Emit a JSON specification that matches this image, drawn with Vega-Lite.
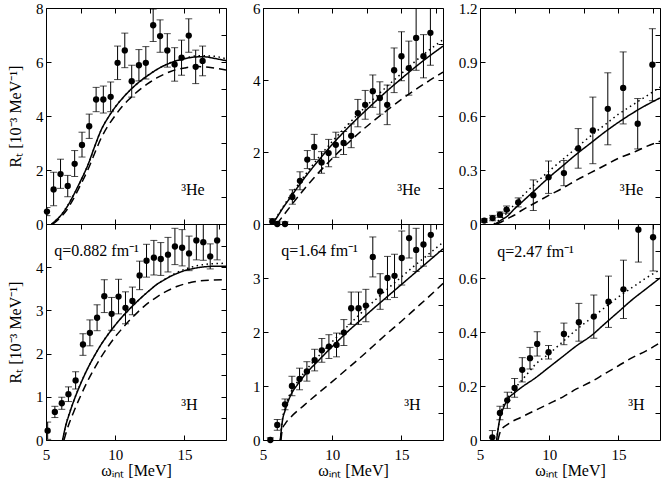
{
  "$schema": "https://vega.github.io/schema/vega-lite/v6.json",
  "background": "white",
  "padding": {"left": 7, "top": 0, "right": 2, "bottom": 4},
  "config": {
    "font": "Liberation Serif",
    "view": {"stroke": "black", "strokeWidth": 1},
    "axis": {"domain": false, "grid": false, "tickColor": "black", "tickSize": -5, "tickWidth": 1, "labelColor": "black", "labelFont": "Liberation Serif", "titleFont": "Liberation Serif", "labelFontSize": 15, "titleFontSize": 16, "titleFontWeight": "normal", "titleColor": "black", "labelFlush": false, "labelOverlap": false},
    "axisY": {"labelPadding": 8, "titlePadding": 12},
    "axisX": {"labelPadding": 12, "titlePadding": 0}
  },
  "datasets": {
    "pts": [
      {"p":"HeA","w":5.07,"r":0.46,"lo":0.31,"hi":0.61},
      {"p":"HeA","w":5.55,"r":1.28,"lo":0.68,"hi":1.92},
      {"p":"HeA","w":6.05,"r":1.85,"lo":1.32,"hi":2.40},
      {"p":"HeA","w":6.57,"r":1.41,"lo":1.01,"hi":1.80},
      {"p":"HeA","w":7.07,"r":2.23,"lo":1.76,"hi":2.72},
      {"p":"HeA","w":7.60,"r":2.93,"lo":2.48,"hi":3.40},
      {"p":"HeA","w":8.12,"r":3.62,"lo":3.17,"hi":4.07},
      {"p":"HeA","w":8.62,"r":4.61,"lo":4.16,"hi":5.06},
      {"p":"HeA","w":9.14,"r":4.61,"lo":4.11,"hi":5.11},
      {"p":"HeA","w":9.67,"r":4.71,"lo":4.16,"hi":5.26},
      {"p":"HeA","w":10.17,"r":5.97,"lo":5.35,"hi":6.59},
      {"p":"HeA","w":10.69,"r":6.43,"lo":5.79,"hi":7.07},
      {"p":"HeA","w":11.19,"r":5.29,"lo":4.70,"hi":5.88},
      {"p":"HeA","w":11.71,"r":5.88,"lo":5.30,"hi":6.46},
      {"p":"HeA","w":12.21,"r":5.97,"lo":5.37,"hi":6.57},
      {"p":"HeA","w":12.74,"r":7.36,"lo":6.76,"hi":7.96},
      {"p":"HeA","w":13.24,"r":6.96,"lo":6.36,"hi":7.56},
      {"p":"HeA","w":13.76,"r":6.43,"lo":5.81,"hi":7.05},
      {"p":"HeA","w":14.29,"r":5.91,"lo":5.29,"hi":6.53},
      {"p":"HeA","w":14.79,"r":6.16,"lo":5.51,"hi":6.81},
      {"p":"HeA","w":15.31,"r":6.98,"lo":6.36,"hi":7.60},
      {"p":"HeA","w":15.81,"r":5.82,"lo":5.20,"hi":6.44},
      {"p":"HeA","w":16.31,"r":6.04,"lo":5.49,"hi":6.59},

      {"p":"HeB","w":5.67,"r":0.07,"lo":-0.01,"hi":0.15},
      {"p":"HeB","w":6.03,"r":0.0,"lo":-0.06,"hi":0.06},
      {"p":"HeB","w":6.59,"r":0.0,"lo":-0.06,"hi":0.06},
      {"p":"HeB","w":7.12,"r":0.75,"lo":0.55,"hi":0.95},
      {"p":"HeB","w":7.67,"r":1.20,"lo":0.95,"hi":1.45},
      {"p":"HeB","w":8.20,"r":1.79,"lo":1.54,"hi":2.04},
      {"p":"HeB","w":8.70,"r":2.14,"lo":1.79,"hi":2.49},
      {"p":"HeB","w":9.23,"r":1.71,"lo":1.41,"hi":2.01},
      {"p":"HeB","w":9.74,"r":1.97,"lo":1.59,"hi":2.35},
      {"p":"HeB","w":10.26,"r":2.20,"lo":1.85,"hi":2.55},
      {"p":"HeB","w":10.82,"r":2.25,"lo":1.93,"hi":2.57},
      {"p":"HeB","w":11.37,"r":2.45,"lo":2.12,"hi":2.78},
      {"p":"HeB","w":11.85,"r":3.08,"lo":2.70,"hi":3.46},
      {"p":"HeB","w":12.38,"r":3.31,"lo":2.91,"hi":3.71},
      {"p":"HeB","w":12.93,"r":3.69,"lo":3.24,"hi":4.14},
      {"p":"HeB","w":13.44,"r":3.50,"lo":3.05,"hi":3.95},
      {"p":"HeB","w":13.97,"r":3.31,"lo":2.76,"hi":3.86},
      {"p":"HeB","w":14.47,"r":4.27,"lo":3.65,"hi":4.89},
      {"p":"HeB","w":15.00,"r":4.66,"lo":3.98,"hi":5.34},
      {"p":"HeB","w":15.53,"r":4.33,"lo":3.58,"hi":5.08},
      {"p":"HeB","w":16.06,"r":5.17,"lo":4.27,"hi":6.07},
      {"p":"HeB","w":16.59,"r":4.66,"lo":4.06,"hi":5.26},
      {"p":"HeB","w":17.09,"r":5.31,"lo":4.41,"hi":6.21},

      {"p":"HeC","w":5.31,"r":0.019,"lo":0.009,"hi":0.029},
      {"p":"HeC","w":5.91,"r":0.033,"lo":0.018,"hi":0.048},
      {"p":"HeC","w":6.44,"r":0.052,"lo":0.037,"hi":0.067},
      {"p":"HeC","w":6.92,"r":0.080,"lo":0.060,"hi":0.100},
      {"p":"HeC","w":7.76,"r":0.120,"lo":0.095,"hi":0.145},
      {"p":"HeC","w":8.85,"r":0.160,"lo":0.075,"hi":0.245},
      {"p":"HeC","w":9.95,"r":0.260,"lo":0.170,"hi":0.350},
      {"p":"HeC","w":11.06,"r":0.283,"lo":0.213,"hi":0.353},
      {"p":"HeC","w":12.09,"r":0.420,"lo":0.310,"hi":0.530},
      {"p":"HeC","w":13.15,"r":0.520,"lo":0.335,"hi":0.705},
      {"p":"HeC","w":14.23,"r":0.640,"lo":0.440,"hi":0.840},
      {"p":"HeC","w":15.34,"r":0.756,"lo":0.556,"hi":0.956},
      {"p":"HeC","w":16.39,"r":0.557,"lo":0.417,"hi":0.697},
      {"p":"HeC","w":17.45,"r":0.885,"lo":0.685,"hi":1.085},

      {"p":"HA","w":5.12,"r":0.215,"lo":0.015,"hi":0.415},
      {"p":"HA","w":5.64,"r":0.65,"lo":0.52,"hi":0.78},
      {"p":"HA","w":6.14,"r":0.85,"lo":0.71,"hi":0.99},
      {"p":"HA","w":6.62,"r":1.06,"lo":0.89,"hi":1.23},
      {"p":"HA","w":7.14,"r":1.38,"lo":1.18,"hi":1.58},
      {"p":"HA","w":7.67,"r":2.21,"lo":1.96,"hi":2.46},
      {"p":"HA","w":8.17,"r":2.48,"lo":2.18,"hi":2.78},
      {"p":"HA","w":8.69,"r":2.83,"lo":2.53,"hi":3.13},
      {"p":"HA","w":9.21,"r":3.33,"lo":2.95,"hi":3.71},
      {"p":"HA","w":9.74,"r":2.92,"lo":2.54,"hi":3.30},
      {"p":"HA","w":10.24,"r":3.32,"lo":2.92,"hi":3.72},
      {"p":"HA","w":10.74,"r":3.06,"lo":2.69,"hi":3.43},
      {"p":"HA","w":11.24,"r":3.22,"lo":2.90,"hi":3.54},
      {"p":"HA","w":11.76,"r":3.81,"lo":3.48,"hi":4.14},
      {"p":"HA","w":12.26,"r":4.15,"lo":3.77,"hi":4.53},
      {"p":"HA","w":12.79,"r":4.22,"lo":3.82,"hi":4.62},
      {"p":"HA","w":13.29,"r":4.19,"lo":3.81,"hi":4.57},
      {"p":"HA","w":13.81,"r":4.29,"lo":3.89,"hi":4.69},
      {"p":"HA","w":14.31,"r":4.48,"lo":4.06,"hi":4.90},
      {"p":"HA","w":14.83,"r":4.45,"lo":4.03,"hi":4.87},
      {"p":"HA","w":15.33,"r":4.32,"lo":3.92,"hi":4.72},
      {"p":"HA","w":15.86,"r":4.62,"lo":4.17,"hi":5.07},
      {"p":"HA","w":16.36,"r":4.58,"lo":4.16,"hi":5.00},
      {"p":"HA","w":16.86,"r":4.25,"lo":3.96,"hi":4.54},
      {"p":"HA","w":17.36,"r":4.62,"lo":4.17,"hi":5.07},

      {"p":"HB","w":5.53,"r":0.0,"lo":-0.04,"hi":0.04},
      {"p":"HB","w":6.03,"r":0.28,"lo":0.18,"hi":0.38},
      {"p":"HB","w":6.59,"r":0.66,"lo":0.56,"hi":0.76},
      {"p":"HB","w":7.09,"r":1.00,"lo":0.82,"hi":1.18},
      {"p":"HB","w":7.64,"r":1.13,"lo":0.93,"hi":1.33},
      {"p":"HB","w":8.17,"r":1.27,"lo":1.09,"hi":1.45},
      {"p":"HB","w":8.73,"r":1.48,"lo":1.28,"hi":1.68},
      {"p":"HB","w":9.25,"r":1.66,"lo":1.44,"hi":1.88},
      {"p":"HB","w":9.76,"r":1.73,"lo":1.51,"hi":1.95},
      {"p":"HB","w":10.31,"r":1.76,"lo":1.54,"hi":1.98},
      {"p":"HB","w":10.84,"r":1.99,"lo":1.75,"hi":2.23},
      {"p":"HB","w":11.37,"r":2.44,"lo":2.14,"hi":2.74},
      {"p":"HB","w":11.90,"r":2.44,"lo":2.14,"hi":2.74},
      {"p":"HB","w":12.43,"r":2.49,"lo":2.19,"hi":2.79},
      {"p":"HB","w":12.93,"r":3.39,"lo":3.02,"hi":3.76},
      {"p":"HB","w":13.46,"r":2.75,"lo":2.42,"hi":3.08},
      {"p":"HB","w":13.99,"r":3.00,"lo":2.60,"hi":3.40},
      {"p":"HB","w":14.50,"r":3.04,"lo":2.64,"hi":3.44},
      {"p":"HB","w":15.02,"r":3.37,"lo":2.87,"hi":3.87},
      {"p":"HB","w":15.55,"r":3.74,"lo":3.37,"hi":4.11},
      {"p":"HB","w":16.06,"r":3.52,"lo":3.12,"hi":3.92},
      {"p":"HB","w":16.59,"r":3.62,"lo":3.22,"hi":4.02},
      {"p":"HB","w":17.12,"r":3.80,"lo":3.40,"hi":4.20},

      {"p":"HC","w":5.89,"r":0.010,"lo":-0.015,"hi":0.035},
      {"p":"HC","w":6.44,"r":0.100,"lo":0.075,"hi":0.125},
      {"p":"HC","w":6.97,"r":0.147,"lo":0.117,"hi":0.177},
      {"p":"HC","w":7.50,"r":0.193,"lo":0.158,"hi":0.228},
      {"p":"HC","w":8.05,"r":0.260,"lo":0.215,"hi":0.305},
      {"p":"HC","w":8.61,"r":0.303,"lo":0.263,"hi":0.343},
      {"p":"HC","w":9.13,"r":0.356,"lo":0.311,"hi":0.401},
      {"p":"HC","w":9.95,"r":0.325,"lo":0.300,"hi":0.350},
      {"p":"HC","w":11.06,"r":0.393,"lo":0.353,"hi":0.433},
      {"p":"HC","w":12.14,"r":0.436,"lo":0.366,"hi":0.506},
      {"p":"HC","w":13.22,"r":0.457,"lo":0.377,"hi":0.537},
      {"p":"HC","w":14.28,"r":0.512,"lo":0.417,"hi":0.607},
      {"p":"HC","w":15.36,"r":0.558,"lo":0.450,"hi":0.666},
      {"p":"HC","w":16.44,"r":0.779,"lo":0.659,"hi":0.899},
      {"p":"HC","w":17.50,"r":0.751,"lo":0.626,"hi":0.876}
    ],
    "cur": [
      {"p":"HeA","c":"s","w":5.4,"r":0},{"p":"HeA","c":"s","w":6,"r":0.28},{"p":"HeA","c":"s","w":6.5,"r":0.62},{"p":"HeA","c":"s","w":7,"r":1.08},{"p":"HeA","c":"s","w":7.5,"r":1.6},{"p":"HeA","c":"s","w":8,"r":2.15},{"p":"HeA","c":"s","w":8.5,"r":2.85},{"p":"HeA","c":"s","w":9,"r":3.5},{"p":"HeA","c":"s","w":9.5,"r":3.95},{"p":"HeA","c":"s","w":10,"r":4.33},{"p":"HeA","c":"s","w":10.5,"r":4.64},{"p":"HeA","c":"s","w":11,"r":4.92},{"p":"HeA","c":"s","w":11.5,"r":5.16},{"p":"HeA","c":"s","w":12,"r":5.37},{"p":"HeA","c":"s","w":12.5,"r":5.55},{"p":"HeA","c":"s","w":13,"r":5.72},{"p":"HeA","c":"s","w":13.5,"r":5.86},{"p":"HeA","c":"s","w":14,"r":5.97},{"p":"HeA","c":"s","w":14.5,"r":6.06},{"p":"HeA","c":"s","w":15,"r":6.12},{"p":"HeA","c":"s","w":15.5,"r":6.17},{"p":"HeA","c":"s","w":16,"r":6.19},{"p":"HeA","c":"s","w":16.5,"r":6.19},{"p":"HeA","c":"s","w":17,"r":6.15},{"p":"HeA","c":"s","w":17.5,"r":6.1},{"p":"HeA","c":"s","w":18,"r":6.05},
      {"p":"HeA","c":"o","w":5.4,"r":0},{"p":"HeA","c":"o","w":6,"r":0.28},{"p":"HeA","c":"o","w":7,"r":1.08},{"p":"HeA","c":"o","w":8,"r":2.15},{"p":"HeA","c":"o","w":9,"r":3.5},{"p":"HeA","c":"o","w":10,"r":4.33},{"p":"HeA","c":"o","w":11,"r":4.92},{"p":"HeA","c":"o","w":12,"r":5.37},{"p":"HeA","c":"o","w":13,"r":5.72},{"p":"HeA","c":"o","w":14,"r":5.98},{"p":"HeA","c":"o","w":15,"r":6.14},{"p":"HeA","c":"o","w":16,"r":6.23},{"p":"HeA","c":"o","w":17,"r":6.22},{"p":"HeA","c":"o","w":18,"r":6.12},
      {"p":"HeA","c":"d","w":5.5,"r":0},{"p":"HeA","c":"d","w":6,"r":0.22},{"p":"HeA","c":"d","w":6.5,"r":0.52},{"p":"HeA","c":"d","w":7,"r":0.95},{"p":"HeA","c":"d","w":7.5,"r":1.45},{"p":"HeA","c":"d","w":8,"r":1.98},{"p":"HeA","c":"d","w":8.5,"r":2.6},{"p":"HeA","c":"d","w":9,"r":3.2},{"p":"HeA","c":"d","w":9.5,"r":3.65},{"p":"HeA","c":"d","w":10,"r":4.02},{"p":"HeA","c":"d","w":10.5,"r":4.35},{"p":"HeA","c":"d","w":11,"r":4.62},{"p":"HeA","c":"d","w":11.5,"r":4.86},{"p":"HeA","c":"d","w":12,"r":5.07},{"p":"HeA","c":"d","w":12.5,"r":5.25},{"p":"HeA","c":"d","w":13,"r":5.41},{"p":"HeA","c":"d","w":13.5,"r":5.54},{"p":"HeA","c":"d","w":14,"r":5.65},{"p":"HeA","c":"d","w":14.5,"r":5.73},{"p":"HeA","c":"d","w":15,"r":5.78},{"p":"HeA","c":"d","w":15.5,"r":5.82},{"p":"HeA","c":"d","w":16,"r":5.83},{"p":"HeA","c":"d","w":16.5,"r":5.82},{"p":"HeA","c":"d","w":17,"r":5.79},{"p":"HeA","c":"d","w":17.5,"r":5.75},{"p":"HeA","c":"d","w":18,"r":5.7},

      {"p":"HeB","c":"s","w":5.7,"r":0},{"p":"HeB","c":"s","w":6,"r":0.18},{"p":"HeB","c":"s","w":6.5,"r":0.48},{"p":"HeB","c":"s","w":7,"r":0.75},{"p":"HeB","c":"s","w":7.5,"r":1.02},{"p":"HeB","c":"s","w":8,"r":1.28},{"p":"HeB","c":"s","w":9,"r":1.76},{"p":"HeB","c":"s","w":10,"r":2.21},{"p":"HeB","c":"s","w":11,"r":2.62},{"p":"HeB","c":"s","w":12,"r":3.0},{"p":"HeB","c":"s","w":13,"r":3.36},{"p":"HeB","c":"s","w":14,"r":3.71},{"p":"HeB","c":"s","w":15,"r":4.04},{"p":"HeB","c":"s","w":16,"r":4.36},{"p":"HeB","c":"s","w":17,"r":4.66},{"p":"HeB","c":"s","w":18,"r":4.94},
      {"p":"HeB","c":"o","w":5.7,"r":0},{"p":"HeB","c":"o","w":6,"r":0.2},{"p":"HeB","c":"o","w":7,"r":0.8},{"p":"HeB","c":"o","w":8,"r":1.34},{"p":"HeB","c":"o","w":9,"r":1.84},{"p":"HeB","c":"o","w":10,"r":2.29},{"p":"HeB","c":"o","w":11,"r":2.71},{"p":"HeB","c":"o","w":12,"r":3.1},{"p":"HeB","c":"o","w":13,"r":3.48},{"p":"HeB","c":"o","w":14,"r":3.84},{"p":"HeB","c":"o","w":15,"r":4.18},{"p":"HeB","c":"o","w":16,"r":4.52},{"p":"HeB","c":"o","w":17,"r":4.83},{"p":"HeB","c":"o","w":18,"r":5.12},
      {"p":"HeB","c":"d","w":6.0,"r":0},{"p":"HeB","c":"d","w":6.5,"r":0.25},{"p":"HeB","c":"d","w":7,"r":0.5},{"p":"HeB","c":"d","w":8,"r":0.98},{"p":"HeB","c":"d","w":9,"r":1.42},{"p":"HeB","c":"d","w":10,"r":1.82},{"p":"HeB","c":"d","w":11,"r":2.2},{"p":"HeB","c":"d","w":12,"r":2.55},{"p":"HeB","c":"d","w":13,"r":2.87},{"p":"HeB","c":"d","w":14,"r":3.17},{"p":"HeB","c":"d","w":15,"r":3.46},{"p":"HeB","c":"d","w":16,"r":3.73},{"p":"HeB","c":"d","w":17,"r":3.98},{"p":"HeB","c":"d","w":18,"r":4.22},

      {"p":"HeC","c":"s","w":6.1,"r":0},{"p":"HeC","c":"s","w":6.5,"r":0.02},{"p":"HeC","c":"s","w":7,"r":0.045},{"p":"HeC","c":"s","w":7.5,"r":0.085},{"p":"HeC","c":"s","w":8,"r":0.12},{"p":"HeC","c":"s","w":9,"r":0.19},{"p":"HeC","c":"s","w":10,"r":0.26},{"p":"HeC","c":"s","w":11,"r":0.325},{"p":"HeC","c":"s","w":12,"r":0.39},{"p":"HeC","c":"s","w":13,"r":0.45},{"p":"HeC","c":"s","w":14,"r":0.51},{"p":"HeC","c":"s","w":15,"r":0.565},{"p":"HeC","c":"s","w":16,"r":0.615},{"p":"HeC","c":"s","w":17,"r":0.66},{"p":"HeC","c":"s","w":18,"r":0.7},
      {"p":"HeC","c":"o","w":6.0,"r":0},{"p":"HeC","c":"o","w":6.5,"r":0.03},{"p":"HeC","c":"o","w":7,"r":0.065},{"p":"HeC","c":"o","w":7.5,"r":0.11},{"p":"HeC","c":"o","w":8,"r":0.15},{"p":"HeC","c":"o","w":9,"r":0.225},{"p":"HeC","c":"o","w":10,"r":0.295},{"p":"HeC","c":"o","w":11,"r":0.36},{"p":"HeC","c":"o","w":12,"r":0.425},{"p":"HeC","c":"o","w":13,"r":0.49},{"p":"HeC","c":"o","w":14,"r":0.55},{"p":"HeC","c":"o","w":15,"r":0.61},{"p":"HeC","c":"o","w":16,"r":0.66},{"p":"HeC","c":"o","w":17,"r":0.71},{"p":"HeC","c":"o","w":18,"r":0.76},
      {"p":"HeC","c":"d","w":6.2,"r":0},{"p":"HeC","c":"d","w":6.5,"r":0.01},{"p":"HeC","c":"d","w":7,"r":0.03},{"p":"HeC","c":"d","w":7.5,"r":0.05},{"p":"HeC","c":"d","w":8,"r":0.075},{"p":"HeC","c":"d","w":9,"r":0.118},{"p":"HeC","c":"d","w":10,"r":0.16},{"p":"HeC","c":"d","w":11,"r":0.2},{"p":"HeC","c":"d","w":12,"r":0.245},{"p":"HeC","c":"d","w":13,"r":0.285},{"p":"HeC","c":"d","w":14,"r":0.325},{"p":"HeC","c":"d","w":15,"r":0.365},{"p":"HeC","c":"d","w":16,"r":0.395},{"p":"HeC","c":"d","w":17,"r":0.43},{"p":"HeC","c":"d","w":18,"r":0.46},

      {"p":"HA","c":"s","w":6.2,"r":0},{"p":"HA","c":"s","w":6.4,"r":0.3},{"p":"HA","c":"s","w":6.7,"r":0.62},{"p":"HA","c":"s","w":7,"r":0.9},{"p":"HA","c":"s","w":7.5,"r":1.3},{"p":"HA","c":"s","w":8,"r":1.65},{"p":"HA","c":"s","w":8.5,"r":1.95},{"p":"HA","c":"s","w":9,"r":2.22},{"p":"HA","c":"s","w":9.5,"r":2.45},{"p":"HA","c":"s","w":10,"r":2.66},{"p":"HA","c":"s","w":10.5,"r":2.85},{"p":"HA","c":"s","w":11,"r":3.02},{"p":"HA","c":"s","w":11.5,"r":3.18},{"p":"HA","c":"s","w":12,"r":3.33},{"p":"HA","c":"s","w":12.5,"r":3.47},{"p":"HA","c":"s","w":13,"r":3.6},{"p":"HA","c":"s","w":13.5,"r":3.7},{"p":"HA","c":"s","w":14,"r":3.79},{"p":"HA","c":"s","w":14.5,"r":3.86},{"p":"HA","c":"s","w":15,"r":3.92},{"p":"HA","c":"s","w":15.5,"r":3.96},{"p":"HA","c":"s","w":16,"r":3.99},{"p":"HA","c":"s","w":16.5,"r":4.01},{"p":"HA","c":"s","w":17,"r":4.02},{"p":"HA","c":"s","w":18,"r":4.02},
      {"p":"HA","c":"o","w":6.2,"r":0},{"p":"HA","c":"o","w":6.4,"r":0.3},{"p":"HA","c":"o","w":7,"r":0.9},{"p":"HA","c":"o","w":8,"r":1.65},{"p":"HA","c":"o","w":9,"r":2.22},{"p":"HA","c":"o","w":10,"r":2.66},{"p":"HA","c":"o","w":11,"r":3.02},{"p":"HA","c":"o","w":12,"r":3.33},{"p":"HA","c":"o","w":13,"r":3.6},{"p":"HA","c":"o","w":14,"r":3.8},{"p":"HA","c":"o","w":15,"r":3.95},{"p":"HA","c":"o","w":16,"r":4.04},{"p":"HA","c":"o","w":17,"r":4.08},{"p":"HA","c":"o","w":18,"r":4.09},
      {"p":"HA","c":"d","w":6.3,"r":0},{"p":"HA","c":"d","w":6.5,"r":0.22},{"p":"HA","c":"d","w":7,"r":0.65},{"p":"HA","c":"d","w":7.5,"r":1.02},{"p":"HA","c":"d","w":8,"r":1.36},{"p":"HA","c":"d","w":8.5,"r":1.66},{"p":"HA","c":"d","w":9,"r":1.93},{"p":"HA","c":"d","w":9.5,"r":2.17},{"p":"HA","c":"d","w":10,"r":2.39},{"p":"HA","c":"d","w":10.5,"r":2.58},{"p":"HA","c":"d","w":11,"r":2.76},{"p":"HA","c":"d","w":11.5,"r":2.92},{"p":"HA","c":"d","w":12,"r":3.07},{"p":"HA","c":"d","w":12.5,"r":3.2},{"p":"HA","c":"d","w":13,"r":3.31},{"p":"HA","c":"d","w":13.5,"r":3.41},{"p":"HA","c":"d","w":14,"r":3.49},{"p":"HA","c":"d","w":14.5,"r":3.56},{"p":"HA","c":"d","w":15,"r":3.61},{"p":"HA","c":"d","w":15.5,"r":3.65},{"p":"HA","c":"d","w":16,"r":3.68},{"p":"HA","c":"d","w":17,"r":3.7},{"p":"HA","c":"d","w":18,"r":3.71},

      {"p":"HB","c":"s","w":6.25,"r":0},{"p":"HB","c":"s","w":6.4,"r":0.35},{"p":"HB","c":"s","w":6.6,"r":0.55},{"p":"HB","c":"s","w":7,"r":0.83},{"p":"HB","c":"s","w":7.5,"r":1.03},{"p":"HB","c":"s","w":8,"r":1.2},{"p":"HB","c":"s","w":9,"r":1.47},{"p":"HB","c":"s","w":10,"r":1.73},{"p":"HB","c":"s","w":11,"r":1.98},{"p":"HB","c":"s","w":12,"r":2.21},{"p":"HB","c":"s","w":13,"r":2.44},{"p":"HB","c":"s","w":14,"r":2.66},{"p":"HB","c":"s","w":15,"r":2.88},{"p":"HB","c":"s","w":16,"r":3.1},{"p":"HB","c":"s","w":17,"r":3.32},{"p":"HB","c":"s","w":18,"r":3.54},
      {"p":"HB","c":"o","w":6.25,"r":0},{"p":"HB","c":"o","w":6.4,"r":0.38},{"p":"HB","c":"o","w":6.6,"r":0.6},{"p":"HB","c":"o","w":7,"r":0.88},{"p":"HB","c":"o","w":7.5,"r":1.08},{"p":"HB","c":"o","w":8,"r":1.26},{"p":"HB","c":"o","w":9,"r":1.55},{"p":"HB","c":"o","w":10,"r":1.82},{"p":"HB","c":"o","w":11,"r":2.08},{"p":"HB","c":"o","w":12,"r":2.33},{"p":"HB","c":"o","w":13,"r":2.57},{"p":"HB","c":"o","w":14,"r":2.8},{"p":"HB","c":"o","w":15,"r":3.02},{"p":"HB","c":"o","w":16,"r":3.24},{"p":"HB","c":"o","w":17,"r":3.45},{"p":"HB","c":"o","w":18,"r":3.66},
      {"p":"HB","c":"d","w":6.3,"r":0},{"p":"HB","c":"d","w":6.4,"r":0.2},{"p":"HB","c":"d","w":6.6,"r":0.3},{"p":"HB","c":"d","w":7,"r":0.42},{"p":"HB","c":"d","w":8,"r":0.65},{"p":"HB","c":"d","w":9,"r":0.87},{"p":"HB","c":"d","w":10,"r":1.08},{"p":"HB","c":"d","w":11,"r":1.3},{"p":"HB","c":"d","w":12,"r":1.52},{"p":"HB","c":"d","w":13,"r":1.75},{"p":"HB","c":"d","w":14,"r":1.98},{"p":"HB","c":"d","w":15,"r":2.2},{"p":"HB","c":"d","w":16,"r":2.43},{"p":"HB","c":"d","w":17,"r":2.66},{"p":"HB","c":"d","w":18,"r":2.9},

      {"p":"HC","c":"s","w":6.2,"r":0},{"p":"HC","c":"s","w":6.4,"r":0.07},{"p":"HC","c":"s","w":6.7,"r":0.12},{"p":"HC","c":"s","w":7,"r":0.15},{"p":"HC","c":"s","w":7.5,"r":0.175},{"p":"HC","c":"s","w":8,"r":0.195},{"p":"HC","c":"s","w":9,"r":0.23},{"p":"HC","c":"s","w":10,"r":0.27},{"p":"HC","c":"s","w":11,"r":0.31},{"p":"HC","c":"s","w":12,"r":0.35},{"p":"HC","c":"s","w":13,"r":0.385},{"p":"HC","c":"s","w":14,"r":0.43},{"p":"HC","c":"s","w":15,"r":0.475},{"p":"HC","c":"s","w":16,"r":0.52},{"p":"HC","c":"s","w":17,"r":0.56},{"p":"HC","c":"s","w":18,"r":0.6},
      {"p":"HC","c":"o","w":6.2,"r":0},{"p":"HC","c":"o","w":6.5,"r":0.1},{"p":"HC","c":"o","w":7,"r":0.155},{"p":"HC","c":"o","w":7.5,"r":0.19},{"p":"HC","c":"o","w":8,"r":0.22},{"p":"HC","c":"o","w":8.5,"r":0.25},{"p":"HC","c":"o","w":9,"r":0.28},{"p":"HC","c":"o","w":10,"r":0.32},{"p":"HC","c":"o","w":11,"r":0.365},{"p":"HC","c":"o","w":12,"r":0.41},{"p":"HC","c":"o","w":13,"r":0.45},{"p":"HC","c":"o","w":14,"r":0.49},{"p":"HC","c":"o","w":15,"r":0.53},{"p":"HC","c":"o","w":16,"r":0.565},{"p":"HC","c":"o","w":17,"r":0.6},{"p":"HC","c":"o","w":18,"r":0.63},
      {"p":"HC","c":"d","w":6.3,"r":0},{"p":"HC","c":"d","w":6.5,"r":0.035},{"p":"HC","c":"d","w":7,"r":0.058},{"p":"HC","c":"d","w":8,"r":0.085},{"p":"HC","c":"d","w":9,"r":0.11},{"p":"HC","c":"d","w":10,"r":0.135},{"p":"HC","c":"d","w":11,"r":0.16},{"p":"HC","c":"d","w":12,"r":0.19},{"p":"HC","c":"d","w":13,"r":0.215},{"p":"HC","c":"d","w":14,"r":0.245},{"p":"HC","c":"d","w":15,"r":0.275},{"p":"HC","c":"d","w":16,"r":0.305},{"p":"HC","c":"d","w":17,"r":0.33},{"p":"HC","c":"d","w":18,"r":0.36}
    ],
    "lab": [
      {"p":"HeA","x":14.76,"y":1.09,"t":"³He"},
      {"p":"HeB","x":14.69,"y":0.81,"t":"³He"},
      {"p":"HeC","x":15.1,"y":0.163,"t":"³He"},
      {"p":"HA","x":14.76,"y":0.69,"t":"³H"},
      {"p":"HB","x":15.2,"y":0.56,"t":"³H"},
      {"p":"HC","x":15.7,"y":0.11,"t":"³H"},
      {"p":"HA","x":5.6,"y":4.25,"t":"q=0.882 fm⁻¹"},
      {"p":"HB","x":6.32,"y":3.41,"t":"q=1.64 fm⁻¹"},
      {"p":"HC","x":6.25,"y":0.677,"t":"q=2.47 fm⁻¹"}
    ]
  },
  "columns": 3,
  "spacing": {"row": 0, "column": 37},
  "bounds": "flush",
  "concat": [
    {
      "width": 180, "height": 216,
      "resolve": {"axis": {"x": "independent", "y": "independent"}},
      "layer": [
        {"layer": [
          {"data": {"name": "cur"}, "transform": [{"filter": "datum.p=='HeA'"}],
           "mark": {"type": "line", "color": "black", "strokeWidth": 1.5, "clip": true, "interpolate": "monotone"},
           "encoding": {
             "x": {"field": "w", "type": "quantitative", "scale": {"domain": [5, 18]}, "axis": {"values": [5, 7.5, 10, 12.5, 15, 17.5], "labels": false, "title": null}},
             "y": {"field": "r", "type": "quantitative", "scale": {"domain": [0, 8]}, "axis": {"values": [0, 1, 2, 3, 4, 5, 6, 7, 8], "labelExpr": "datum.value % 2 == 0 ? format(datum.value, '~g') : ''", "title": "Rₜ [10⁻³ MeV⁻¹]"}},
             "strokeDash": {"field": "c", "type": "nominal", "scale": {"domain": ["s", "o", "d"], "range": [[1, 0], [1.5, 3.5], [8, 5]]}, "legend": null}
           }},
          {"data": {"name": "pts"}, "transform": [{"filter": "datum.p=='HeA'"}],
           "mark": {"type": "rule", "color": "black", "clip": true},
           "encoding": {"x": {"field": "w", "type": "quantitative"}, "y": {"field": "lo", "type": "quantitative"}, "y2": {"field": "hi"}}},
          {"data": {"name": "pts"}, "transform": [{"filter": "datum.p=='HeA'"}, {"fold": ["lo", "hi"]}],
           "mark": {"type": "tick", "orient": "horizontal", "size": 7, "thickness": 1, "color": "black", "clip": true},
           "encoding": {"x": {"field": "w", "type": "quantitative"}, "y": {"field": "value", "type": "quantitative"}}},
          {"data": {"name": "pts"}, "transform": [{"filter": "datum.p=='HeA'"}],
           "mark": {"type": "circle", "size": 40, "color": "black", "opacity": 1},
           "encoding": {"x": {"field": "w", "type": "quantitative"}, "y": {"field": "r", "type": "quantitative"}}},
          {"data": {"name": "lab"}, "transform": [{"filter": "datum.p=='HeA'"}],
           "mark": {"type": "text", "align": "left", "baseline": "alphabetic", "fontSize": 16, "color": "black"},
           "encoding": {"x": {"field": "x", "type": "quantitative"}, "y": {"field": "y", "type": "quantitative"}, "text": {"field": "t"}}}
        ]},
        {"data": {"name": "pts"}, "transform": [{"filter": "datum.p=='HeA'"}],
         "mark": {"type": "point", "opacity": 0},
         "encoding": {
           "x": {"field": "w", "type": "quantitative", "axis": {"orient": "top", "values": [5, 7.5, 10, 12.5, 15, 17.5], "labels": false, "title": null}},
           "y": {"field": "r", "type": "quantitative", "axis": {"orient": "right", "values": [0, 1, 2, 3, 4, 5, 6, 7, 8], "labels": false, "title": null}}
         }}
      ]
    },
    {
      "width": 180, "height": 216,
      "resolve": {"axis": {"x": "independent", "y": "independent"}},
      "layer": [
        {"layer": [
          {"data": {"name": "cur"}, "transform": [{"filter": "datum.p=='HeB'"}],
           "mark": {"type": "line", "color": "black", "strokeWidth": 1.5, "clip": true, "interpolate": "monotone"},
           "encoding": {
             "x": {"field": "w", "type": "quantitative", "scale": {"domain": [5, 18]}, "axis": {"values": [5, 7.5, 10, 12.5, 15, 17.5], "labels": false, "title": null}},
             "y": {"field": "r", "type": "quantitative", "scale": {"domain": [0, 6]}, "axis": {"values": [0, 1, 2, 3, 4, 5, 6], "labelExpr": "datum.value % 2 == 0 ? format(datum.value, '~g') : ''", "title": null}},
             "strokeDash": {"field": "c", "type": "nominal", "scale": {"domain": ["s", "o", "d"], "range": [[1, 0], [1.5, 3.5], [8, 5]]}, "legend": null}
           }},
          {"data": {"name": "pts"}, "transform": [{"filter": "datum.p=='HeB'"}],
           "mark": {"type": "rule", "color": "black", "clip": true},
           "encoding": {"x": {"field": "w", "type": "quantitative"}, "y": {"field": "lo", "type": "quantitative"}, "y2": {"field": "hi"}}},
          {"data": {"name": "pts"}, "transform": [{"filter": "datum.p=='HeB'"}, {"fold": ["lo", "hi"]}],
           "mark": {"type": "tick", "orient": "horizontal", "size": 7, "thickness": 1, "color": "black", "clip": true},
           "encoding": {"x": {"field": "w", "type": "quantitative"}, "y": {"field": "value", "type": "quantitative"}}},
          {"data": {"name": "pts"}, "transform": [{"filter": "datum.p=='HeB'"}],
           "mark": {"type": "circle", "size": 40, "color": "black", "opacity": 1},
           "encoding": {"x": {"field": "w", "type": "quantitative"}, "y": {"field": "r", "type": "quantitative"}}},
          {"data": {"name": "lab"}, "transform": [{"filter": "datum.p=='HeB'"}],
           "mark": {"type": "text", "align": "left", "baseline": "alphabetic", "fontSize": 16, "color": "black"},
           "encoding": {"x": {"field": "x", "type": "quantitative"}, "y": {"field": "y", "type": "quantitative"}, "text": {"field": "t"}}}
        ]},
        {"data": {"name": "pts"}, "transform": [{"filter": "datum.p=='HeB'"}],
         "mark": {"type": "point", "opacity": 0},
         "encoding": {
           "x": {"field": "w", "type": "quantitative", "axis": {"orient": "top", "values": [5, 7.5, 10, 12.5, 15, 17.5], "labels": false, "title": null}},
           "y": {"field": "r", "type": "quantitative", "axis": {"orient": "right", "values": [0, 1, 2, 3, 4, 5, 6], "labels": false, "title": null}}
         }}
      ]
    },
    {
      "width": 180, "height": 216,
      "resolve": {"axis": {"x": "independent", "y": "independent"}},
      "layer": [
        {"layer": [
          {"data": {"name": "cur"}, "transform": [{"filter": "datum.p=='HeC'"}],
           "mark": {"type": "line", "color": "black", "strokeWidth": 1.5, "clip": true, "interpolate": "monotone"},
           "encoding": {
             "x": {"field": "w", "type": "quantitative", "scale": {"domain": [5, 18]}, "axis": {"values": [5, 7.5, 10, 12.5, 15, 17.5], "labels": false, "title": null}},
             "y": {"field": "r", "type": "quantitative", "scale": {"domain": [0, 1.2]}, "axis": {"values": [0, 0.15, 0.3, 0.45, 0.6, 0.75, 0.9, 1.05, 1.2], "labelExpr": "abs(round(datum.value / 0.3) * 0.3 - datum.value) < 0.001 ? format(datum.value, '~g') : ''", "title": null}},
             "strokeDash": {"field": "c", "type": "nominal", "scale": {"domain": ["s", "o", "d"], "range": [[1, 0], [1.5, 3.5], [8, 5]]}, "legend": null}
           }},
          {"data": {"name": "pts"}, "transform": [{"filter": "datum.p=='HeC'"}],
           "mark": {"type": "rule", "color": "black", "clip": true},
           "encoding": {"x": {"field": "w", "type": "quantitative"}, "y": {"field": "lo", "type": "quantitative"}, "y2": {"field": "hi"}}},
          {"data": {"name": "pts"}, "transform": [{"filter": "datum.p=='HeC'"}, {"fold": ["lo", "hi"]}],
           "mark": {"type": "tick", "orient": "horizontal", "size": 7, "thickness": 1, "color": "black", "clip": true},
           "encoding": {"x": {"field": "w", "type": "quantitative"}, "y": {"field": "value", "type": "quantitative"}}},
          {"data": {"name": "pts"}, "transform": [{"filter": "datum.p=='HeC'"}],
           "mark": {"type": "circle", "size": 40, "color": "black", "opacity": 1},
           "encoding": {"x": {"field": "w", "type": "quantitative"}, "y": {"field": "r", "type": "quantitative"}}},
          {"data": {"name": "lab"}, "transform": [{"filter": "datum.p=='HeC'"}],
           "mark": {"type": "text", "align": "left", "baseline": "alphabetic", "fontSize": 16, "color": "black"},
           "encoding": {"x": {"field": "x", "type": "quantitative"}, "y": {"field": "y", "type": "quantitative"}, "text": {"field": "t"}}}
        ]},
        {"data": {"name": "pts"}, "transform": [{"filter": "datum.p=='HeC'"}],
         "mark": {"type": "point", "opacity": 0},
         "encoding": {
           "x": {"field": "w", "type": "quantitative", "axis": {"orient": "top", "values": [5, 7.5, 10, 12.5, 15, 17.5], "labels": false, "title": null}},
           "y": {"field": "r", "type": "quantitative", "axis": {"orient": "right", "values": [0, 0.15, 0.3, 0.45, 0.6, 0.75, 0.9, 1.05, 1.2], "labels": false, "title": null}}
         }}
      ]
    },
    {
      "width": 180, "height": 216,
      "resolve": {"axis": {"x": "independent", "y": "independent"}},
      "layer": [
        {"layer": [
          {"data": {"name": "cur"}, "transform": [{"filter": "datum.p=='HA'"}],
           "mark": {"type": "line", "color": "black", "strokeWidth": 1.5, "clip": true, "interpolate": "monotone"},
           "encoding": {
             "x": {"field": "w", "type": "quantitative", "scale": {"domain": [5, 18]}, "axis": {"values": [5, 7.5, 10, 12.5, 15, 17.5], "labelExpr": "datum.value % 5 == 0 ? format(datum.value, '~g') : ''", "title": "ωᵢₙₜ [MeV]"}},
             "y": {"field": "r", "type": "quantitative", "scale": {"domain": [0, 5]}, "axis": {"values": [0, 0.5, 1, 1.5, 2, 2.5, 3, 3.5, 4, 4.5, 5], "labelExpr": "datum.value < 4.6 && datum.value % 1 == 0 ? format(datum.value, '~g') : ''", "title": "Rₜ [10⁻³ MeV⁻¹]"}},
             "strokeDash": {"field": "c", "type": "nominal", "scale": {"domain": ["s", "o", "d"], "range": [[1, 0], [1.5, 3.5], [8, 5]]}, "legend": null}
           }},
          {"data": {"name": "pts"}, "transform": [{"filter": "datum.p=='HA'"}],
           "mark": {"type": "rule", "color": "black", "clip": true},
           "encoding": {"x": {"field": "w", "type": "quantitative"}, "y": {"field": "lo", "type": "quantitative"}, "y2": {"field": "hi"}}},
          {"data": {"name": "pts"}, "transform": [{"filter": "datum.p=='HA'"}, {"fold": ["lo", "hi"]}],
           "mark": {"type": "tick", "orient": "horizontal", "size": 7, "thickness": 1, "color": "black", "clip": true},
           "encoding": {"x": {"field": "w", "type": "quantitative"}, "y": {"field": "value", "type": "quantitative"}}},
          {"data": {"name": "pts"}, "transform": [{"filter": "datum.p=='HA'"}],
           "mark": {"type": "circle", "size": 40, "color": "black", "opacity": 1},
           "encoding": {"x": {"field": "w", "type": "quantitative"}, "y": {"field": "r", "type": "quantitative"}}},
          {"data": {"name": "lab"}, "transform": [{"filter": "datum.p=='HA'"}],
           "mark": {"type": "text", "align": "left", "baseline": "alphabetic", "fontSize": 16, "color": "black"},
           "encoding": {"x": {"field": "x", "type": "quantitative"}, "y": {"field": "y", "type": "quantitative"}, "text": {"field": "t"}}}
        ]},
        {"data": {"name": "pts"}, "transform": [{"filter": "datum.p=='HA'"}],
         "mark": {"type": "point", "opacity": 0},
         "encoding": {
           "x": {"field": "w", "type": "quantitative", "axis": {"orient": "top", "values": [5, 7.5, 10, 12.5, 15, 17.5], "labels": false, "title": null}},
           "y": {"field": "r", "type": "quantitative", "axis": {"orient": "right", "values": [0, 0.5, 1, 1.5, 2, 2.5, 3, 3.5, 4, 4.5, 5], "labels": false, "title": null}}
         }}
      ]
    },
    {
      "width": 180, "height": 216,
      "resolve": {"axis": {"x": "independent", "y": "independent"}},
      "layer": [
        {"layer": [
          {"data": {"name": "cur"}, "transform": [{"filter": "datum.p=='HB'"}],
           "mark": {"type": "line", "color": "black", "strokeWidth": 1.5, "clip": true, "interpolate": "monotone"},
           "encoding": {
             "x": {"field": "w", "type": "quantitative", "scale": {"domain": [5, 18]}, "axis": {"values": [5, 7.5, 10, 12.5, 15, 17.5], "labelExpr": "datum.value % 5 == 0 ? format(datum.value, '~g') : ''", "title": "ωᵢₙₜ [MeV]"}},
             "y": {"field": "r", "type": "quantitative", "scale": {"domain": [0, 4]}, "axis": {"values": [0, 0.5, 1, 1.5, 2, 2.5, 3, 3.5, 4], "labelExpr": "datum.value < 3.6 && datum.value % 1 == 0 ? format(datum.value, '~g') : ''", "title": null}},
             "strokeDash": {"field": "c", "type": "nominal", "scale": {"domain": ["s", "o", "d"], "range": [[1, 0], [1.5, 3.5], [8, 5]]}, "legend": null}
           }},
          {"data": {"name": "pts"}, "transform": [{"filter": "datum.p=='HB'"}],
           "mark": {"type": "rule", "color": "black", "clip": true},
           "encoding": {"x": {"field": "w", "type": "quantitative"}, "y": {"field": "lo", "type": "quantitative"}, "y2": {"field": "hi"}}},
          {"data": {"name": "pts"}, "transform": [{"filter": "datum.p=='HB'"}, {"fold": ["lo", "hi"]}],
           "mark": {"type": "tick", "orient": "horizontal", "size": 7, "thickness": 1, "color": "black", "clip": true},
           "encoding": {"x": {"field": "w", "type": "quantitative"}, "y": {"field": "value", "type": "quantitative"}}},
          {"data": {"name": "pts"}, "transform": [{"filter": "datum.p=='HB'"}],
           "mark": {"type": "circle", "size": 40, "color": "black", "opacity": 1},
           "encoding": {"x": {"field": "w", "type": "quantitative"}, "y": {"field": "r", "type": "quantitative"}}},
          {"data": {"name": "lab"}, "transform": [{"filter": "datum.p=='HB'"}],
           "mark": {"type": "text", "align": "left", "baseline": "alphabetic", "fontSize": 16, "color": "black"},
           "encoding": {"x": {"field": "x", "type": "quantitative"}, "y": {"field": "y", "type": "quantitative"}, "text": {"field": "t"}}}
        ]},
        {"data": {"name": "pts"}, "transform": [{"filter": "datum.p=='HB'"}],
         "mark": {"type": "point", "opacity": 0},
         "encoding": {
           "x": {"field": "w", "type": "quantitative", "axis": {"orient": "top", "values": [5, 7.5, 10, 12.5, 15, 17.5], "labels": false, "title": null}},
           "y": {"field": "r", "type": "quantitative", "axis": {"orient": "right", "values": [0, 0.5, 1, 1.5, 2, 2.5, 3, 3.5, 4], "labels": false, "title": null}}
         }}
      ]
    },
    {
      "width": 180, "height": 216,
      "resolve": {"axis": {"x": "independent", "y": "independent"}},
      "layer": [
        {"layer": [
          {"data": {"name": "cur"}, "transform": [{"filter": "datum.p=='HC'"}],
           "mark": {"type": "line", "color": "black", "strokeWidth": 1.5, "clip": true, "interpolate": "monotone"},
           "encoding": {
             "x": {"field": "w", "type": "quantitative", "scale": {"domain": [5, 18]}, "axis": {"values": [5, 7.5, 10, 12.5, 15, 17.5], "labelExpr": "datum.value % 5 == 0 ? format(datum.value, '~g') : ''", "title": "ωᵢₙₜ [MeV]"}},
             "y": {"field": "r", "type": "quantitative", "scale": {"domain": [0, 0.8]}, "axis": {"values": [0, 0.1, 0.2, 0.3, 0.4, 0.5, 0.6, 0.7, 0.8], "labelExpr": "datum.value < 0.65 && abs(round(datum.value * 5) - datum.value * 5) < 0.01 ? format(datum.value, '~g') : ''", "title": null}},
             "strokeDash": {"field": "c", "type": "nominal", "scale": {"domain": ["s", "o", "d"], "range": [[1, 0], [1.5, 3.5], [8, 5]]}, "legend": null}
           }},
          {"data": {"name": "pts"}, "transform": [{"filter": "datum.p=='HC'"}],
           "mark": {"type": "rule", "color": "black", "clip": true},
           "encoding": {"x": {"field": "w", "type": "quantitative"}, "y": {"field": "lo", "type": "quantitative"}, "y2": {"field": "hi"}}},
          {"data": {"name": "pts"}, "transform": [{"filter": "datum.p=='HC'"}, {"fold": ["lo", "hi"]}],
           "mark": {"type": "tick", "orient": "horizontal", "size": 7, "thickness": 1, "color": "black", "clip": true},
           "encoding": {"x": {"field": "w", "type": "quantitative"}, "y": {"field": "value", "type": "quantitative"}}},
          {"data": {"name": "pts"}, "transform": [{"filter": "datum.p=='HC'"}],
           "mark": {"type": "circle", "size": 40, "color": "black", "opacity": 1},
           "encoding": {"x": {"field": "w", "type": "quantitative"}, "y": {"field": "r", "type": "quantitative"}}},
          {"data": {"name": "lab"}, "transform": [{"filter": "datum.p=='HC'"}],
           "mark": {"type": "text", "align": "left", "baseline": "alphabetic", "fontSize": 16, "color": "black"},
           "encoding": {"x": {"field": "x", "type": "quantitative"}, "y": {"field": "y", "type": "quantitative"}, "text": {"field": "t"}}}
        ]},
        {"data": {"name": "pts"}, "transform": [{"filter": "datum.p=='HC'"}],
         "mark": {"type": "point", "opacity": 0},
         "encoding": {
           "x": {"field": "w", "type": "quantitative", "axis": {"orient": "top", "values": [5, 7.5, 10, 12.5, 15, 17.5], "labels": false, "title": null}},
           "y": {"field": "r", "type": "quantitative", "axis": {"orient": "right", "values": [0, 0.1, 0.2, 0.3, 0.4, 0.5, 0.6, 0.7, 0.8], "labels": false, "title": null}}
         }}
      ]
    }
  ]
}
